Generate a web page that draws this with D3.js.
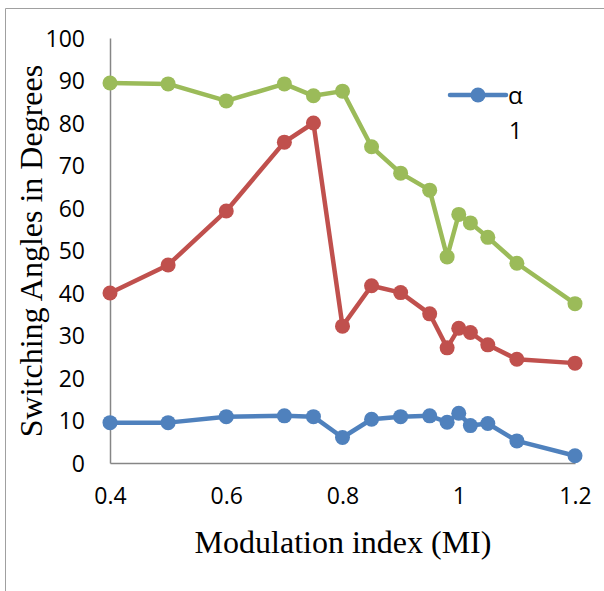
<!DOCTYPE html>
<html><head><meta charset="utf-8">
<script src="https://cdn.jsdelivr.net/npm/d3@7"></script>
<style>body{margin:0;background:#fff}svg{display:block}</style>
</head><body>
<script>
const mi = [0.4, 0.5, 0.6, 0.7, 0.75, 0.8, 0.85, 0.9, 0.95, 0.98, 1.0, 1.02, 1.05, 1.1, 1.2];
const alpha1 = [9.5, 9.5, 10.9, 11.1, 10.9, 6.0, 10.3, 10.9, 11.1, 9.6, 11.7, 8.8, 9.3, 5.2, 1.7];
const alpha2 = [40.0, 46.6, 59.3, 75.5, 80.0, 32.2, 41.7, 40.1, 35.1, 27.1, 31.7, 30.7, 27.8, 24.4, 23.5];
const alpha3 = [89.4, 89.2, 85.2, 89.2, 86.4, 87.5, 74.4, 68.2, 64.2, 48.5, 58.5, 56.5, 53.1, 47.0, 37.5];
const xTicks = [0.4, 0.6, 0.8, 1, 1.2];
const yTicks = [0, 10, 20, 30, 40, 50, 60, 70, 80, 90, 100];
const seriesNames = ["α", "1"];
const colors = ["#4F81BD", "#C0504D", "#9BBB59"];

const W = 604, H = 591;
const svg = d3.select("body").append("svg").attr("width", W).attr("height", H);

// outer chart border
svg.append("path").attr("d", `M5.5,${H} V8.5 H${W}`).attr("fill", "none").attr("stroke", "#a0a0a0").attr("stroke-width", 1);

const x = d3.scaleLinear().domain([0.4, 1.2]).range([110, 575]);
const y = d3.scaleLinear().domain([0, 100]).range([463, 38]);

const tickFont = "'Open Sans', sans-serif";
const xAxis = svg.append("g").attr("transform", "translate(0,463)")
  .call(d3.axisBottom(x).tickValues(xTicks).tickSize(0).tickPadding(33).tickFormat(d => String(d)));
const yAxis = svg.append("g").attr("transform", "translate(110,0)")
  .call(d3.axisLeft(y).tickValues(yTicks).tickSize(0).tickPadding(25));
[xAxis, yAxis].forEach(g => {
  g.select(".domain").attr("stroke", "#868686").attr("stroke-width", 1.5);
  g.selectAll("text").attr("font-family", tickFont).attr("font-size", 23).attr("fill", "#000");
});
yAxis.selectAll("text").attr("dy", "0.36em");
xAxis.selectAll("text").attr("dy", "0.36em");

// axis titles
svg.append("text").attr("x", 343).attr("y", 553).attr("text-anchor", "middle")
  .attr("font-family", "'Liberation Serif', serif").attr("font-size", 32).text("Modulation index (MI)");
svg.append("text").attr("transform", "translate(42,251) rotate(-90)").attr("text-anchor", "middle")
  .attr("font-family", "'Liberation Serif', serif").attr("font-size", 32).text("Switching Angles in Degrees");

const line = d3.line().x((d, i) => x(mi[i])).y(d => y(d));
[alpha1, alpha2, alpha3].forEach((s, k) => {
  svg.append("path").datum(s).attr("d", line).attr("fill", "none")
    .attr("stroke", colors[k]).attr("stroke-width", 4.5).attr("stroke-linejoin", "round");
  svg.append("g").selectAll("circle").data(s).join("circle")
    .attr("cx", (d, i) => x(mi[i])).attr("cy", d => y(d)).attr("r", 7.5).attr("fill", colors[k]);
});

// legend
const lg = svg.append("g");
lg.append("line").attr("x1", 450).attr("x2", 506).attr("y1", 95).attr("y2", 95)
  .attr("stroke", colors[0]).attr("stroke-width", 4.5).attr("stroke-linecap", "round");
lg.append("circle").attr("cx", 478).attr("cy", 95).attr("r", 7.5).attr("fill", colors[0]);
lg.append("text").attr("x", 508).attr("y", 104).attr("font-family", tickFont).attr("font-size", 24).text(seriesNames[0]);
lg.append("text").attr("x", 509).attr("y", 139).attr("font-family", tickFont).attr("font-size", 23).text(seriesNames[1]);
</script>
</body></html>
